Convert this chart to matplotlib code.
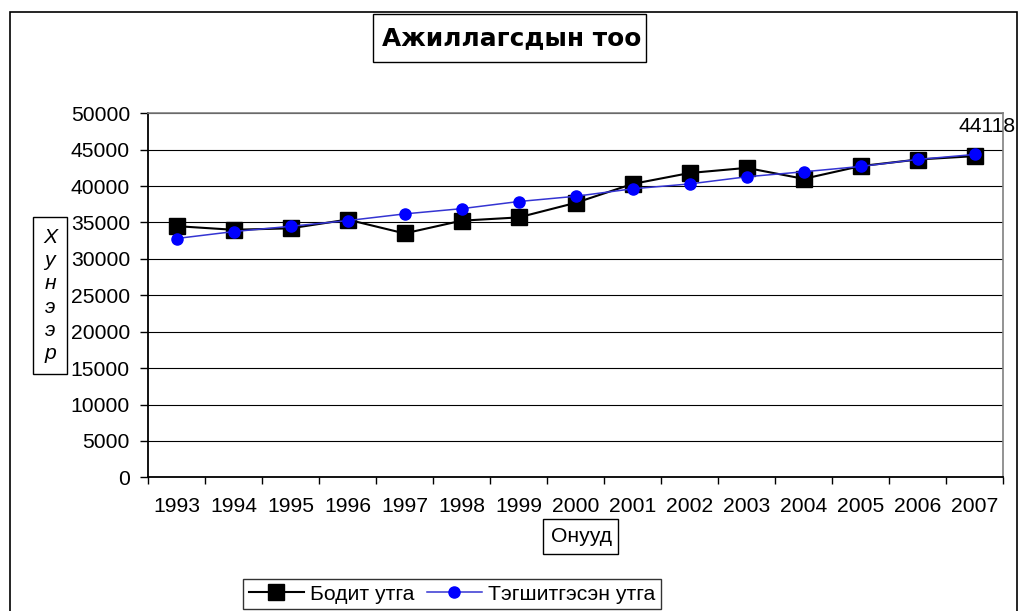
import matplotlib
matplotlib.use("Agg")
import matplotlib.pyplot as plt
from matplotlib.patches import Rectangle
from matplotlib.ticker import FixedLocator

plt.rcParams['font.family'] = ['Liberation Sans', 'DejaVu Sans']

years = ['1993', '1994', '1995', '1996', '1997', '1998', '1999', '2000',
         '2001', '2002', '2003', '2004', '2005', '2006', '2007']
actual = [34500, 34000, 34200, 35400, 33500, 35250, 35700, 37700,
          40300, 41800, 42500, 41000, 42750, 43650, 44118]
smoothed = [32800, 33750, 34480, 35260, 36180, 36900, 37880, 38600,
            39630, 40300, 41280, 41970, 42700, 43660, 44350]
yticks = list(range(0, 50001, 5000))

title = 'Ажиллагсдын тоо'
xlabel = 'Онууд'
ylabel_chars = ['Х', 'у', 'н', 'э', 'э', 'р']
label_actual = 'Бодит утга'
label_smooth = 'Тэгшитгэсэн утга'

FS = 15.2

W, H = 1019, 611
fig = plt.figure(figsize=(W / 100, H / 100), dpi=100)

def fx(px):
    return px / W

def fy(py):
    return 1 - py / H

def rect(x0, y0, x1, y1, lw=1.0, ec='black'):
    r = Rectangle((fx(x0), fy(y1)), fx(x1) - fx(x0), fy(y0) - fy(y1),
                  transform=fig.transFigure, fill=False, ec=ec, lw=lw,
                  clip_on=False)
    fig.patches.append(r)

# outer chart frame
rect(10, 12, 1017, 640, lw=1.2)

ax = fig.add_axes([fx(148), fy(477.3), fx(1003.3) - fx(148), fy(113.3) - fy(477.3)])
x = list(range(len(years)))

ax.plot(x, actual, color='black', lw=1.5, marker='s', markersize=11.5,
        markerfacecolor='black', markeredgecolor='black', label=label_actual, zorder=3)
ax.plot(x, smoothed, color='#3434d2', lw=1.1, marker='o', markersize=8,
        markerfacecolor='#0000ff', markeredgecolor='#0000ff', label=label_smooth, zorder=4)

ax.set_xlim(-0.5, len(years) - 0.5)
ax.set_ylim(0, 50000)
ax.set_yticks(yticks)
ax.set_yticklabels([str(v) for v in yticks])
ax.yaxis.grid(True, color='black', lw=0.8)
ax.set_axisbelow(True)

ax.set_xticks(x)
ax.set_xticklabels(years)
ax.xaxis.set_minor_locator(FixedLocator([i - 0.5 for i in range(len(years) + 1)]))
ax.tick_params(axis='x', which='major', length=0, pad=14, labelsize=FS)
ax.tick_params(axis='x', which='minor', length=5, width=1, direction='out')
ax.tick_params(axis='y', length=6, width=1, pad=7, labelsize=FS)

for s in ['top', 'right']:
    ax.spines[s].set_color('#808080')
    ax.spines[s].set_linewidth(1.2)
for s in ['left', 'bottom']:
    ax.spines[s].set_color('black')
    ax.spines[s].set_linewidth(1.3)

# data label on last point
ax.annotate(str(actual[-1]), (x[-1], actual[-1]), xytext=(12, 30),
            textcoords='offset pixels', ha='center', va='center',
            fontsize=FS, annotation_clip=False)

# title with box
fig.text(fx(512), fy(38), title, ha='center', va='center',
         fontsize=17.8, fontweight='bold', family=['DejaVu Sans'])
rect(373, 14, 646, 62, lw=1.0)

# y label stacked with box
fig.text(fx(50), fy(295.5), '\n'.join(ylabel_chars), ha='center', va='center',
         fontsize=FS, style='italic', linespacing=1.27)
rect(33, 217, 67, 374, lw=1.0)

# x label with box
fig.text(fx(581), fy(536.5), xlabel, ha='center', va='center', fontsize=FS)
rect(543, 519, 618, 554, lw=1.0)

leg = fig.legend(loc='center', bbox_to_anchor=(fx(452), fy(594)), ncol=2,
                 fontsize=FS, frameon=True, fancybox=False, edgecolor='black',
                 handlelength=2.6, handletextpad=0.3, columnspacing=0.6,
                 borderpad=0.25, borderaxespad=0)
leg.get_frame().set_linewidth(1.0)

fig.savefig('out.png', dpi=100)
